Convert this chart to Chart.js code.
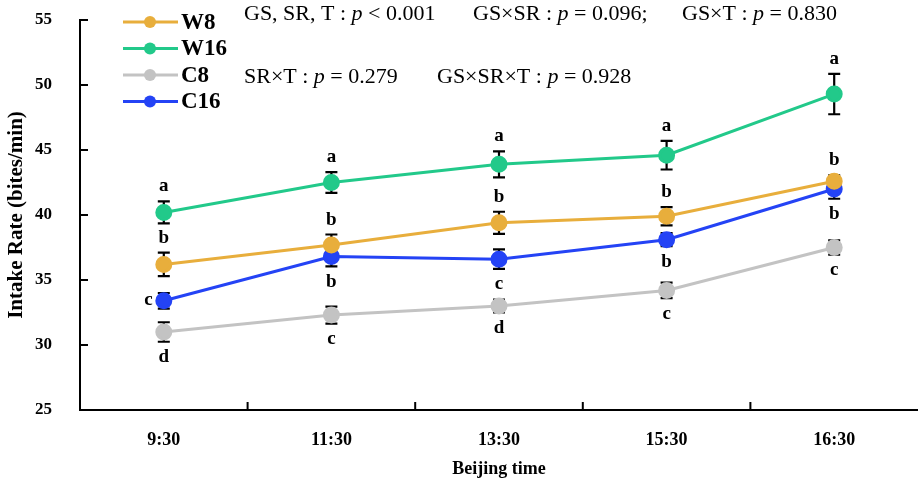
<!DOCTYPE html>
<html>
<head>
<meta charset="utf-8">
<script src="https://cdn.jsdelivr.net/npm/chart.js@4.4.0/dist/chart.umd.min.js"></script>
<style>
  html, body { margin: 0; padding: 0; background: #fff; }
  #wrap { width: 918px; height: 488px; position: relative; }
</style>
</head>
<body>
<div id="wrap"><canvas id="grafica"></canvas></div>
<script>
// datos
const horas = ['9:30', '11:30', '13:30', '15:30', '16:30'];
const yTicks = [25, 30, 35, 40, 45, 50, 55];

const w8 = [36.2, 37.7, 39.4, 39.9, 42.6];
const w16 = [40.2, 42.5, 43.9, 44.6, 49.3];
const c8 = [31.0, 32.3, 33.0, 34.2, 37.5];
const c16 = [33.4, 36.8, 36.6, 38.1, 42.0];

// error (+/-)
const w8Err = [0.9, 0.8, 0.85, 0.7, 0.45];
const w16Err = [0.85, 0.8, 1.0, 1.1, 1.55];
const c8Err = [0.75, 0.65, 0.5, 0.6, 0.55];
const c16Err = [0.6, 0.75, 0.75, 0.5, 0.75];

// letras de significancia
const w8Let = ['b', 'b', 'b', 'b', 'b'];
const w16Let = ['a', 'a', 'a', 'a', 'a'];
const c8Let = ['d', 'c', 'd', 'c', 'c'];
const c16Let = ['c', 'b', 'c', 'b', 'b'];

const serif = '"Liberation Serif", "Times New Roman", serif';

function serie(label, data, err, letras, lado, color) {
    return {
        label: label,
        data: data,
        err: err,
        letras: letras,
        lado: lado,
        borderColor: color,
        backgroundColor: color,
        pointBackgroundColor: color,
        pointBorderColor: color,
        pointRadius: 7,
        borderWidth: 3,
        tension: 0
    };
}

// barras de error (detras de los puntos)
const barrasError = {
    id: 'barrasError',
    beforeDatasetsDraw(chart) {
        const ctx = chart.ctx;
        const x = chart.scales.x, y = chart.scales.y;
        ctx.save();
        ctx.strokeStyle = '#000';
        ctx.lineWidth = 2.2;
        chart.data.datasets.forEach(ds => {
            ds.data.forEach((v, i) => {
                const px = x.getPixelForValue(i);
                const top = y.getPixelForValue(v + ds.err[i]);
                const bot = y.getPixelForValue(v - ds.err[i]);
                ctx.beginPath();
                ctx.moveTo(px, top); ctx.lineTo(px, bot);
                ctx.moveTo(px - 6, top); ctx.lineTo(px + 6, top);
                ctx.moveTo(px - 6, bot); ctx.lineTo(px + 6, bot);
                ctx.stroke();
            });
        });
        ctx.restore();
    }
};

// letras, marcas de ejes, leyenda y textos de p
const extras = {
    id: 'extras',
    afterDraw(chart) {
        const ctx = chart.ctx;
        const x = chart.scales.x, y = chart.scales.y;
        const area = chart.chartArea;
        ctx.save();

        // letras
        ctx.fillStyle = '#000';
        ctx.font = 'bold 19px ' + serif;
        chart.data.datasets.forEach(ds => {
            ds.data.forEach((v, i) => {
                const px = x.getPixelForValue(i);
                const lado = Array.isArray(ds.lado) ? ds.lado[i] : ds.lado;
                if (lado === 'arriba') {
                    ctx.textAlign = 'center';
                    ctx.textBaseline = 'alphabetic';
                    ctx.fillText(ds.letras[i], px, y.getPixelForValue(v + ds.err[i]) - 10);
                } else if (lado === 'abajo') {
                    ctx.textAlign = 'center';
                    ctx.textBaseline = 'top';
                    ctx.fillText(ds.letras[i], px, y.getPixelForValue(v - ds.err[i]) + 6);
                } else {
                    ctx.textAlign = 'right';
                    ctx.textBaseline = 'middle';
                    ctx.fillText(ds.letras[i], px - 11, y.getPixelForValue(v) - 1);
                }
            });
        });

        // marcas hacia adentro
        ctx.strokeStyle = '#000';
        ctx.lineWidth = 2;
        ctx.beginPath();
        yTicks.forEach(t => {
            const py = y.getPixelForValue(t);
            ctx.moveTo(area.left, py); ctx.lineTo(area.left + 8, py);
        });
        for (let i = 1; i < horas.length; i++) {
            const px = (x.getPixelForValue(i - 1) + x.getPixelForValue(i)) / 2;
            ctx.moveTo(px, area.bottom); ctx.lineTo(px, area.bottom - 8);
        }
        ctx.stroke();

        // leyenda
        ctx.font = 'bold 23px ' + serif;
        ctx.textAlign = 'left';
        ctx.textBaseline = 'middle';
        chart.data.datasets.forEach((ds, i) => {
            const ly = 22 + i * 26.5;
            ctx.strokeStyle = ds.borderColor;
            ctx.lineWidth = 3;
            ctx.beginPath();
            ctx.moveTo(123, ly); ctx.lineTo(178, ly);
            ctx.stroke();
            ctx.fillStyle = ds.borderColor;
            ctx.beginPath();
            ctx.arc(150, ly, 6, 0, Math.PI * 2);
            ctx.fill();
            ctx.fillStyle = '#000';
            ctx.fillText(ds.label, 181, ly + 1);
        });

        // textos de p
        const frases = [
            [244, 20, [['GS, SR, T : ', 0], ['p', 1], [' < 0.001', 0]]],
            [473, 20, [['GS\u00d7SR : ', 0], ['p', 1], [' = 0.096;', 0]]],
            [682, 20, [['GS\u00d7T : ', 0], ['p', 1], [' = 0.830', 0]]],
            [244, 83, [['SR\u00d7T : ', 0], ['p', 1], [' = 0.279', 0]]],
            [437, 83, [['GS\u00d7SR\u00d7T : ', 0], ['p', 1], [' = 0.928', 0]]]
        ];
        ctx.textBaseline = 'alphabetic';
        frases.forEach(f => {
            let cx = f[0];
            f[2].forEach(r => {
                ctx.font = (r[1] ? 'italic ' : '') + '22px ' + serif;
                ctx.fillText(r[0], cx, f[1]);
                cx += ctx.measureText(r[0]).width;
            });
        });
        ctx.restore();
    }
};

const ctx = document.getElementById('grafica').getContext('2d');
new Chart(ctx, {
    type: 'line',
    data: {
        labels: horas,
        datasets: [
            serie('W8', w8, w8Err, w8Let, 'arriba', '#E8AE3C'),
            serie('W16', w16, w16Err, w16Let, 'arriba', '#22C98A'),
            serie('C8', c8, c8Err, c8Let, 'abajo', '#C3C3C3'),
            serie('C16', c16, c16Err, c16Let, ['izq', 'abajo', 'abajo', 'abajo', 'abajo'], '#2443F5')
        ]
    },
    options: {
        responsive: true,
        maintainAspectRatio: false,
        animation: false,
        layout: { autoPadding: false, padding: { top: 20, right: 0, left: 0, bottom: 0 } },
        plugins: {
            legend: { display: false },
            tooltip: { enabled: false }
        },
        scales: {
            x: {
                offset: true,
                grid: { display: false, offset: true },
                border: { display: true, color: '#000', width: 2 },
                ticks: {
                    color: '#000',
                    padding: 12,
                    font: { family: serif, size: 18, weight: 'bold' }
                },
                title: {
                    display: true,
                    text: 'Beijing time',
                    color: '#000',
                    padding: { top: 6, bottom: 8 },
                    font: { family: serif, size: 18, weight: 'bold' }
                },
                afterFit(scale) {
                    scale.height = 78;
                    scale.paddingLeft = 0;
                    scale.paddingRight = 0;
                }
            },
            y: {
                min: 25,
                max: 55,
                grid: { display: false },
                border: { display: true, color: '#000', width: 2 },
                ticks: {
                    stepSize: 5,
                    color: '#000',
                    padding: 20,
                    font: { family: serif, size: 17, weight: 'bold' }
                },
                title: {
                    display: true,
                    text: 'Intake Rate (bites/min)',
                    color: '#000',
                    padding: { top: 4, bottom: 0 },
                    font: { family: serif, size: 21, weight: 'bold' }
                },
                afterFit(scale) {
                    scale.width = 80;
                    scale.paddingTop = 0;
                    scale.paddingBottom = 0;
                }
            }
        }
    },
    plugins: [barrasError, extras]
});
</script>
</body>
</html>
